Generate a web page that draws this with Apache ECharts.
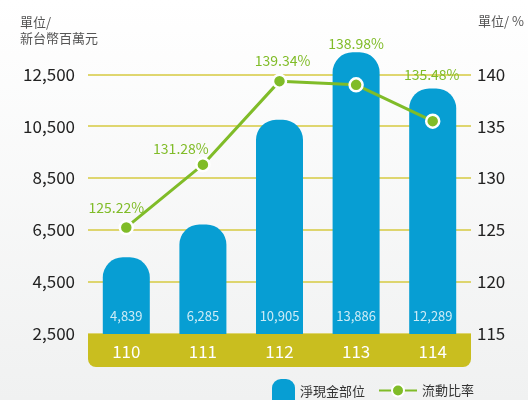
<!DOCTYPE html>
<html>
<head>
<meta charset="utf-8">
<script src="https://cdn.jsdelivr.net/npm/echarts@6/dist/echarts.min.js"></script>
<style>
html,body{margin:0;padding:0;}
#c{width:528px;height:400px;}
</style>
</head>
<body>
<div id="c"></div>
<script>
const categories = ['110', '111', '112', '113', '114'];
const netCash = [4839, 6285, 10905, 13886, 12289];
const currentRatio = [125.22, 131.28, 139.34, 138.98, 135.48];
const leftTickLabels = [2500, 4500, 6500, 8500, 10500, 12500];
const rightTickLabels = [115, 120, 125, 130, 135, 140];
const seriesNames = ['淨現金部位', '流動比率'];

// label nudges (style only)
const ratioLabelOffsets = [[-10, 0], [-22, 4], [3, -1], [0, -21], [-1, -27]];

const fmt = v => Number(v).toLocaleString('en-US');
const FONT = '"Noto Sans CJK TC", "Noto Sans", sans-serif';
const BLUE = '#079ed3';
const GREEN = '#80bc28';
const GRID_L = 88, GRID_R = 57;

const chart = echarts.init(document.getElementById('c'));
chart.setOption({
  animation: false,
  backgroundColor: {
    type: 'linear', x: 0, y: 0, x2: 0, y2: 1,
    colorStops: [{offset: 0, color: '#ffffff'}, {offset: 1, color: '#f0f1f1'}]
  },
  textStyle: {fontFamily: FONT},
  title: [
    {text: '單位/\n新台幣百萬元', left: 20, top: 14, padding: 0,
     textStyle: {fontSize: 13, lineHeight: 16, color: '#555', fontWeight: 'normal', fontFamily: FONT}},
    {text: '單位/ %', right: 4, top: 15, padding: 0,
     textStyle: {fontSize: 13, color: '#555', fontWeight: 'normal', fontFamily: FONT}}
  ],
  legend: [
    {
      left: 272, top: 379, padding: 0,
      itemWidth: 23, itemHeight: 24, selectedMode: false,
      textStyle: {fontSize: 13, color: '#333', fontFamily: FONT},
      data: [{name: seriesNames[0], icon: 'path://M0,9 A9,9 0 0 1 9,0 L14,0 A9,9 0 0 1 23,9 L23,24 L0,24 Z'}]
    },
    {
      left: 378, top: 383.5, padding: 0,
      itemWidth: 38, itemHeight: 15, selectedMode: false,
      textStyle: {fontSize: 13, color: '#333', fontFamily: FONT},
      data: [{name: seriesNames[1]}]
    }
  ],
  grid: [
    {left: GRID_L, right: GRID_R, top: 74.3, bottom: 66.7},
    {left: GRID_L, right: GRID_R, top: 52.3, bottom: 33}
  ],
  graphic: [{
    type: 'rect', z: 5,
    shape: {x: GRID_L, y: 334, width: 528 - GRID_L - GRID_R, height: 33, r: [0, 0, 8, 8]},
    style: {fill: '#c9be1f'}
  }],
  xAxis: [
    {gridIndex: 0, type: 'category', data: categories, z: 10,
     axisLine: {show: false}, axisTick: {show: false},
     axisLabel: {color: '#ffffff', fontSize: 17, margin: 10}},
    {gridIndex: 1, type: 'category', data: categories, show: false}
  ],
  yAxis: [
    {gridIndex: 0, type: 'category', position: 'left', boundaryGap: false,
     data: leftTickLabels.map(fmt),
     axisLine: {show: false}, axisTick: {show: false},
     axisLabel: {color: '#222', fontSize: 17, margin: 13},
     splitLine: {show: true, lineStyle: {color: '#d6ca40', width: 1.5}}},
    {gridIndex: 0, type: 'value', position: 'right',
     min: rightTickLabels[0], max: rightTickLabels[rightTickLabels.length - 1],
     interval: rightTickLabels[1] - rightTickLabels[0],
     axisLine: {show: false}, axisTick: {show: false}, splitLine: {show: false},
     axisLabel: {color: '#222', fontSize: 17, margin: 6}},
    {gridIndex: 1, type: 'value', min: 0, max: 'dataMax', show: false}
  ],
  series: [
    {
      name: seriesNames[0], type: 'bar', xAxisIndex: 1, yAxisIndex: 2,
      data: netCash, barWidth: 47, z: 2,
      itemStyle: {color: BLUE, borderRadius: [20, 20, 0, 0]},
      label: {show: true, position: 'insideBottom', distance: 44,
              color: 'rgba(255,255,255,0.8)', fontSize: 13, fontFamily: FONT,
              formatter: p => fmt(p.value)}
    },
    {
      name: seriesNames[1], type: 'line', xAxisIndex: 0, yAxisIndex: 1,
      z: 4, clip: false,
      data: currentRatio.map((v, i) => ({value: v, label: {offset: ratioLabelOffsets[i]}})),
      symbol: 'circle', symbolSize: 13,
      lineStyle: {color: GREEN, width: 3},
      itemStyle: {color: GREEN, borderColor: '#ffffff', borderWidth: 2.5},
      label: {show: true, position: 'top', color: GREEN, fontSize: 14, fontFamily: FONT,
              formatter: p => p.value.toFixed(2) + '%'}
    }
  ]
});
</script>
</body>
</html>
